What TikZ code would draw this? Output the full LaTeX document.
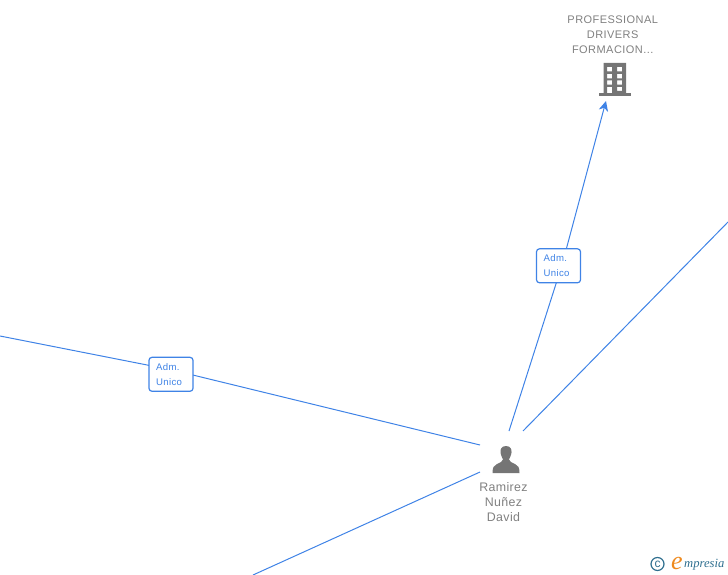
\documentclass[tikz,border=0pt]{standalone}
\usepackage{fontspec}
\setmainfont{Liberation Sans}
\newfontfamily\logofont{Liberation Serif}
\usetikzlibrary{arrows.meta}
\definecolor{linkblue}{HTML}{3F83E6}
\definecolor{icongrey}{HTML}{757575}
\definecolor{textgrey}{HTML}{808080}
\definecolor{logoblue}{HTML}{2F6F8F}
\definecolor{logoorange}{HTML}{EE8A1E}
\tikzset{
  link/.style={draw=linkblue,line width=1pt},
  rolebox/.style={draw=linkblue,fill=white,line width=1.2pt,rounded corners=3pt,
    minimum width=44pt,minimum height=34pt,inner sep=0pt,align=left,
    text width=30pt,text=linkblue,font=\fontsize{9.6}{15}\selectfont\addfontfeature{LetterSpace=4}},
  caption/.style={text=textgrey,align=center,inner sep=0pt},
  iconspot/.style={minimum width=36pt,minimum height=36pt,inner sep=0pt}
}
\begin{document}
\begin{tikzpicture}[x=1pt,y=-1pt]
\useasboundingbox (0,0) rectangle (728,575);
% anchors
\node[iconspot] (building) at (614.5,80) {};
\node[iconspot] (person) at (506,459) {};
\coordinate (arrowtip) at (606,101);
\coordinate (p1) at (509,431);
\coordinate (p2) at (523,431);
\coordinate (p3) at (480,445);
\coordinate (p4) at (480,472);
\coordinate (right) at (728,222);
\coordinate (left) at (0,336);
\coordinate (bottom) at (253,575);
\coordinate (bendA) at (562,265);
\coordinate (bendB) at (171,369.7);
% connectors
\draw[link] (p1) -- (bendA);
\draw[link,-{Stealth[length=10pt,width=9.5pt,inset=3pt]}] (bendA) -- (arrowtip);
\draw[link] (p2) -- (right);
\draw[link] (left) -- (bendB);
\draw[link] (bendB) -- (p3);
\draw[link] (p4) -- (bottom);
\node[rolebox] (roleA) at (558.5,265.8) {Adm.\\Unico};
\node[rolebox] (roleB) at (171,374.3) {Adm.\\Unico};
% building icon
\fill[icongrey,even odd rule]
  (603.5,63) rectangle (626,93.5)
  (607,66.8) rectangle (612,71.3) (617,66.8) rectangle (622,71.3)
  (607,73.8) rectangle (612,78.3) (617,73.8) rectangle (622,78.3)
  (607,80.3) rectangle (612,84.6) (617,80.3) rectangle (622,84.6)
  (607,86.8) rectangle (612,93.5) (617,86.8) rectangle (622,90.8);
\fill[icongrey] (598.5,93.3) rectangle (630.5,96.3);
% person icon
\fill[icongrey] (506,446) .. controls (501.5,446) and (500,449.5) .. (500.5,452.5)
  .. controls (501,456) and (502.5,458) .. (503,459.5)
  .. controls (503,461.5) and (500,462.5) .. (497,464)
  .. controls (494,465.5) and (492.5,467) .. (492.5,473)
  -- (519.5,473)
  .. controls (519.5,467) and (518,465.5) .. (515,464)
  .. controls (512,462.5) and (509,461.5) .. (509,459.5)
  .. controls (509.5,458) and (511,456) .. (511.5,452.5)
  .. controls (512,449.5) and (510.5,446) .. (506,446) -- cycle;
% captions
\node[caption,font=\fontsize{11}{15}\selectfont\addfontfeature{LetterSpace=4}] (bname) at (612.7,34.5) {PROFESSIONAL\\DRIVERS\\FORMACION...};
\node[caption,font=\fontsize{12.4}{15}\selectfont\addfontfeature{LetterSpace=3}] (pname) at (503.5,502) {Ramirez\\Nuñez\\David};
% logo
\node[circle,draw=logoblue,line width=1.2pt,minimum size=13pt,inner sep=0pt,text=logoblue,font=\fontsize{12}{12}\selectfont] (copy) at (657.5,564) {c};
\node[inner sep=0pt,text=logoorange,font=\logofont\fontsize{26}{26}\selectfont\itshape] (logoe) at (677,563) {e};
\node[inner sep=0pt,anchor=west,text=logoblue,font=\logofont\fontsize{12.6}{12.6}\selectfont\itshape] (logotext) at (684,565) {mpresia};
\end{tikzpicture}
\end{document}
